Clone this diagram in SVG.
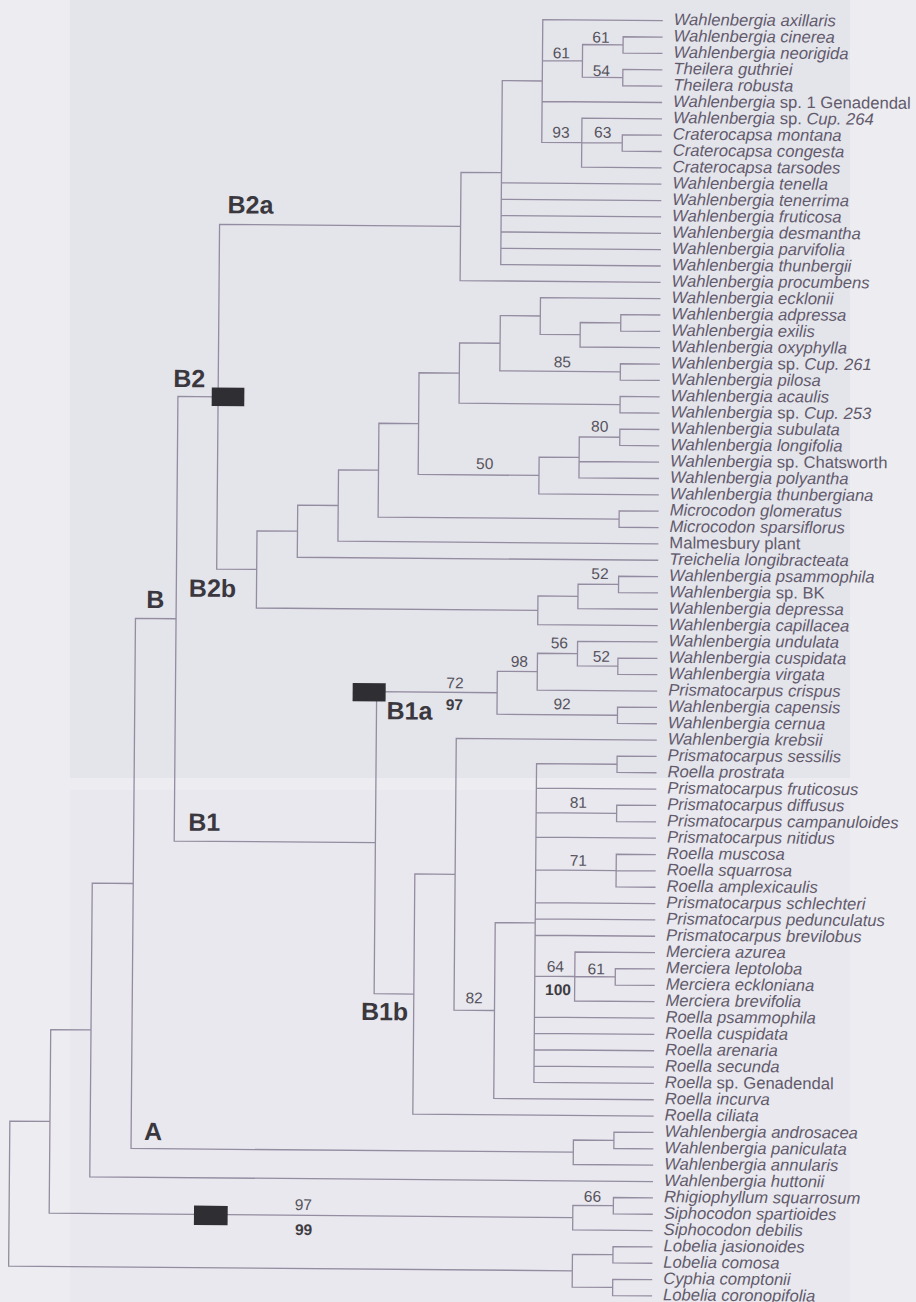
<svg xmlns="http://www.w3.org/2000/svg" width="916" height="1302" viewBox="0 0 916 1302">
<style>
.br{fill:none;stroke:#948ca0;stroke-width:1.3}
.tx{font-family:"Liberation Sans",Arial,sans-serif;font-size:16.6px;font-style:italic;fill:#625a6b}
.up{font-style:normal}
.bs{font-family:"Liberation Sans",Arial,sans-serif;font-size:15.5px;fill:#56535c;text-anchor:middle}
.bb{font-weight:bold;fill:#3e3c42}
.cl{font-family:"Liberation Sans",Arial,sans-serif;font-size:25px;font-weight:bold;fill:#3a383e}
.box{fill:#2f2e32}
</style>
<rect x="0" y="0" width="916" height="1302" fill="#ececf1"/>
<rect x="70" y="0" width="780" height="778" fill="#e4e4eb"/>
<rect x="70" y="790" width="780" height="512" fill="#e8e8ee"/>
<g transform="rotate(0.48 458 651)">
<g id="connectors" class="br">
<path d="M657.5,35.4H618V51.7H657.5 M657.5,68.1H618V84.4H657.5 M618,43.5H577.5V76.2H618 M657.5,133.5H618V149.8H657.5 M657.5,117.1H577.5V166.2H657.5 M577.5,141.6H618 M657.5,19H537.5V141.6H577.5 M537.5,59.9H577.5 M537.5,100.8H657.5 M537.5,80.3H497.5V264.3H657.5 M497.5,182.5H657.5 M497.5,198.9H657.5 M497.5,215.2H657.5 M497.5,231.6H657.5 M497.5,247.9H657.5 M497.5,172.3H457V280.6H657.5 M457,226.4H216V571.1H256"/>
<path d="M657.5,313.3H618V329.7H657.5 M618,321.5H577.5V346H657.5 M657.5,297H537.5V333.7H577.5 M657.5,362.4H618V378.7H657.5 M537.5,315.3H497.5V370.5H618 M657.5,395.1H618V411.4H657.5 M497.5,342.9H457V403.2H618 M657.5,427.8H618V444.1H657.5 M618,435.9H577.5V476.8H657.5 M577.5,460.5H657.5 M577.5,456.4H537.5V493.2H657.5 M457,373.1H416.7V474.8H537.5 M657.5,509.5H618V525.9H657.5 M416.7,423.9H377V517.7H618 M377,470.8H337V542.2H657.5 M337,506.5H296.5V558.6H657.5 M657.5,574.9H618V591.3H657.5 M618,583.1H577.5V607.6H657.5 M577.5,595.3H537.5V624H657.5 M296.5,532.5H256V609.7H537.5"/>
<path d="M657.5,656.7H618V673H657.5 M657.5,640.3H577.5V664.8H618 M577.5,652.6H537.5V689.4H657.5 M657.5,705.7H618V722.1H657.5 M537.5,671H497.5V713.9H618"/>
<path d="M657.5,754.8H618V771.1H657.5 M657.5,803.8H618V820.2H657.5 M657.5,852.9H618V885.6H657.5 M618,869.2H657.5 M657.5,967.3H618V983.7H657.5 M657.5,951H577.5V1000H657.5 M577.5,975.5H618 M618,762.9H537.5V1081.8H657.5 M537.5,787.5H657.5 M537.5,812H618 M537.5,836.5H657.5 M537.5,869.2H618 M537.5,901.9H657.5 M537.5,918.3H657.5 M537.5,934.6H657.5 M537.5,975.5H577.5 M537.5,1016.4H657.5 M537.5,1032.7H657.5 M537.5,1049.1H657.5 M537.5,1065.4H657.5 M537.5,922.3H497.5V1098.1H657.5 M657.5,738.4H457V1010.2H497.5 M457,874.3H416.7V1114.5H657.5 M497.5,692.4H377V994.4H416.7 M216,398.8H175.8V843.4H377"/>
<path d="M657.5,1130.8H618V1147.2H657.5 M618,1139H577.5V1163.5H657.5 M175.8,621.1H135.2V1151.2H577.5 M135.2,886.2H94.2V1179.9H657.5 M657.5,1196.2H618V1212.6H657.5 M618,1204.4H577.5V1228.9H657.5 M94.2,1033H53.9V1216.6H577.5 M657.5,1245.3H618V1261.6H657.5 M657.5,1278H618V1294.3H657.5 M618,1253.4H577.5V1286.1H618 M53.9,1124.8H13.8V1269.8H577.5"/>
</g>
<g id="markers">
<rect class="box" x="209.6" y="389.6" width="32.6" height="18.4"/>
<rect class="box" x="353" y="683.8" width="33" height="18.4"/>
<rect class="box" x="198.7" y="1207.8" width="33.7" height="19.3"/>
</g>
<g id="clade-labels" class="cl">
<text x="223.8" y="215.2">B2a</text>
<text x="171" y="389.4">B2</text>
<text x="188.4" y="598.9">B2b</text>
<text x="145.8" y="610.6">B</text>
<text x="387.1" y="719.9">B1a</text>
<text x="189.7" y="832.9">B1</text>
<text x="364" y="1020.8">B1b</text>
<text x="148" y="1142.6">A</text>
</g>
<g id="support" class="bs">
<text x="595.9" y="41.5">61</text>
<text x="556.3" y="57.4">61</text>
<text x="596.5" y="74.8">54</text>
<text x="556.7" y="136.8">93</text>
<text x="598.4" y="136.5">63</text>
<text x="559.9" y="366.4">85</text>
<text x="597.9" y="430.5">80</text>
<text x="483.2" y="468.8">50</text>
<text x="599.4" y="577.8">52</text>
<text x="559.3" y="647.5">56</text>
<text x="601.4" y="660.5">52</text>
<text x="519.4" y="666.2">98</text>
<text x="455.3" y="688.3">72</text>
<text class="bb" x="454.8" y="710">97</text>
<text x="562.5" y="708.4">92</text>
<text x="579.6" y="806.7">81</text>
<text x="580.1" y="864.7">71</text>
<text x="558" y="970.9">64</text>
<text class="bb" x="560.9" y="994.2">100</text>
<text x="598.9" y="973.1">61</text>
<text x="477" y="1003.2">82</text>
<text x="597.1" y="1200.6">66</text>
<text x="308" y="1211.3">97</text>
<text class="bb" x="308.5" y="1236.3">99</text>
</g>
<g id="taxa" class="tx">
<g id="t00"><text x="668.5" y="23.3">Wahlenbergia axillaris</text></g>
<g id="t01"><text x="668.5" y="39.7">Wahlenbergia cinerea</text></g>
<g id="t02"><text x="668.5" y="56">Wahlenbergia neorigida</text></g>
<g id="t03"><text x="668.5" y="72.4">Theilera guthriei</text></g>
<g id="t04"><text x="668.5" y="88.7">Theilera robusta</text></g>
<g id="t05"><text x="668.5" y="105.1">Wahlenbergia <tspan class="up">sp. 1 Genadendal</tspan></text></g>
<g id="t06"><text x="668.5" y="121.4">Wahlenbergia <tspan class="up">sp.</tspan> Cup. 264</text></g>
<g id="t07"><text x="668.5" y="137.8">Craterocapsa montana</text></g>
<g id="t08"><text x="668.5" y="154.1">Craterocapsa congesta</text></g>
<g id="t09"><text x="668.5" y="170.5">Craterocapsa tarsodes</text></g>
<g id="t10"><text x="668.5" y="186.8">Wahlenbergia tenella</text></g>
<g id="t11"><text x="668.5" y="203.2">Wahlenbergia tenerrima</text></g>
<g id="t12"><text x="668.5" y="219.5">Wahlenbergia fruticosa</text></g>
<g id="t13"><text x="668.5" y="235.9">Wahlenbergia desmantha</text></g>
<g id="t14"><text x="668.5" y="252.2">Wahlenbergia parvifolia</text></g>
<g id="t15"><text x="668.5" y="268.6">Wahlenbergia thunbergii</text></g>
<g id="t16"><text x="668.5" y="284.9">Wahlenbergia procumbens</text></g>
<g id="t17"><text x="668.5" y="301.3">Wahlenbergia ecklonii</text></g>
<g id="t18"><text x="668.5" y="317.6">Wahlenbergia adpressa</text></g>
<g id="t19"><text x="668.5" y="334">Wahlenbergia exilis</text></g>
<g id="t20"><text x="668.5" y="350.3">Wahlenbergia oxyphylla</text></g>
<g id="t21"><text x="668.5" y="366.7">Wahlenbergia <tspan class="up">sp.</tspan> Cup. 261</text></g>
<g id="t22"><text x="668.5" y="383">Wahlenbergia pilosa</text></g>
<g id="t23"><text x="668.5" y="399.4">Wahlenbergia acaulis</text></g>
<g id="t24"><text x="668.5" y="415.7">Wahlenbergia <tspan class="up">sp.</tspan> Cup. 253</text></g>
<g id="t25"><text x="668.5" y="432.1">Wahlenbergia subulata</text></g>
<g id="t26"><text x="668.5" y="448.4">Wahlenbergia longifolia</text></g>
<g id="t27"><text x="668.5" y="464.8">Wahlenbergia <tspan class="up">sp. Chatsworth</tspan></text></g>
<g id="t28"><text x="668.5" y="481.1">Wahlenbergia polyantha</text></g>
<g id="t29"><text x="668.5" y="497.5">Wahlenbergia thunbergiana</text></g>
<g id="t30"><text x="668.5" y="513.8">Microcodon glomeratus</text></g>
<g id="t31"><text x="668.5" y="530.2">Microcodon sparsiflorus</text></g>
<g id="t32"><text x="668.5" y="546.5" class="up">Malmesbury plant</text></g>
<g id="t33"><text x="668.5" y="562.9">Treichelia longibracteata</text></g>
<g id="t34"><text x="668.5" y="579.2">Wahlenbergia psammophila</text></g>
<g id="t35"><text x="668.5" y="595.6">Wahlenbergia <tspan class="up">sp. BK</tspan></text></g>
<g id="t36"><text x="668.5" y="611.9">Wahlenbergia depressa</text></g>
<g id="t37"><text x="668.5" y="628.3">Wahlenbergia capillacea</text></g>
<g id="t38"><text x="668.5" y="644.6">Wahlenbergia undulata</text></g>
<g id="t39"><text x="668.5" y="661">Wahlenbergia cuspidata</text></g>
<g id="t40"><text x="668.5" y="677.3">Wahlenbergia virgata</text></g>
<g id="t41"><text x="668.5" y="693.7">Prismatocarpus crispus</text></g>
<g id="t42"><text x="668.5" y="710">Wahlenbergia capensis</text></g>
<g id="t43"><text x="668.5" y="726.4">Wahlenbergia cernua</text></g>
<g id="t44"><text x="668.5" y="742.7">Wahlenbergia krebsii</text></g>
<g id="t45"><text x="668.5" y="759.1">Prismatocarpus sessilis</text></g>
<g id="t46"><text x="668.5" y="775.4">Roella prostrata</text></g>
<g id="t47"><text x="668.5" y="791.8">Prismatocarpus fruticosus</text></g>
<g id="t48"><text x="668.5" y="808.1">Prismatocarpus diffusus</text></g>
<g id="t49"><text x="668.5" y="824.5">Prismatocarpus campanuloides</text></g>
<g id="t50"><text x="668.5" y="840.8">Prismatocarpus nitidus</text></g>
<g id="t51"><text x="668.5" y="857.2">Roella muscosa</text></g>
<g id="t52"><text x="668.5" y="873.5">Roella squarrosa</text></g>
<g id="t53"><text x="668.5" y="889.9">Roella amplexicaulis</text></g>
<g id="t54"><text x="668.5" y="906.2">Prismatocarpus schlechteri</text></g>
<g id="t55"><text x="668.5" y="922.6">Prismatocarpus pedunculatus</text></g>
<g id="t56"><text x="668.5" y="938.9">Prismatocarpus brevilobus</text></g>
<g id="t57"><text x="668.5" y="955.3">Merciera azurea</text></g>
<g id="t58"><text x="668.5" y="971.6">Merciera leptoloba</text></g>
<g id="t59"><text x="668.5" y="988">Merciera eckloniana</text></g>
<g id="t60"><text x="668.5" y="1004.3">Merciera brevifolia</text></g>
<g id="t61"><text x="668.5" y="1020.7">Roella psammophila</text></g>
<g id="t62"><text x="668.5" y="1037">Roella cuspidata</text></g>
<g id="t63"><text x="668.5" y="1053.4">Roella arenaria</text></g>
<g id="t64"><text x="668.5" y="1069.7">Roella secunda</text></g>
<g id="t65"><text x="668.5" y="1086.1">Roella <tspan class="up">sp. Genadendal</tspan></text></g>
<g id="t66"><text x="668.5" y="1102.4">Roella incurva</text></g>
<g id="t67"><text x="668.5" y="1118.8">Roella ciliata</text></g>
<g id="t68"><text x="668.5" y="1135.1">Wahlenbergia androsacea</text></g>
<g id="t69"><text x="668.5" y="1151.5">Wahlenbergia paniculata</text></g>
<g id="t70"><text x="668.5" y="1167.8">Wahlenbergia annularis</text></g>
<g id="t71"><text x="668.5" y="1184.2">Wahlenbergia huttonii</text></g>
<g id="t72"><text x="668.5" y="1200.5">Rhigiophyllum squarrosum</text></g>
<g id="t73"><text x="668.5" y="1216.9">Siphocodon spartioides</text></g>
<g id="t74"><text x="668.5" y="1233.2">Siphocodon debilis</text></g>
<g id="t75"><text x="668.5" y="1249.6">Lobelia jasionoides</text></g>
<g id="t76"><text x="668.5" y="1265.9">Lobelia comosa</text></g>
<g id="t77"><text x="668.5" y="1282.3">Cyphia comptonii</text></g>
<g id="t78"><text x="668.5" y="1298.6">Lobelia coronopifolia</text></g>
</g>
</g>
</svg>
